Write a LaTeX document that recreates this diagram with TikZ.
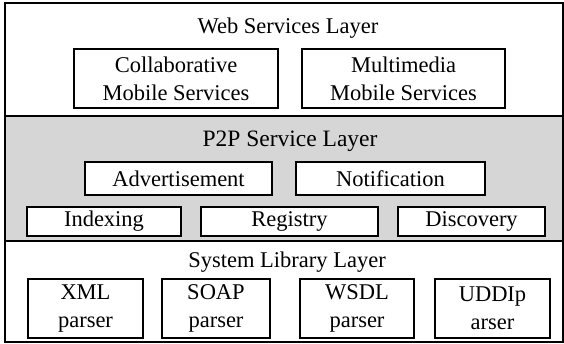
\documentclass[tikz,border=0pt]{standalone}
\usepackage{fontspec}
\setmainfont{Liberation Serif}
\begin{document}
\begin{tikzpicture}[x=1pt,y=-1pt,
  layer/.style={draw, line width=1.6pt, inner sep=0pt, outer sep=0pt, minimum width=558pt},
  lbox/.style={draw, fill=white, line width=1.7pt, inner sep=0pt, align=center,
     font=\fontsize{22.5}{28}\selectfont},
  ttl/.style={font=\fontsize{22.5}{26}\selectfont, inner sep=0pt}]
\useasboundingbox (0,0) rectangle (564,344);
% layers
\node[layer, minimum height=113pt] (web) at (284,59.5) {};
\node[layer, minimum height=125pt, fill=black!16] (p2p) at (284,178.5) {};
\node[layer, minimum height=101pt] (sys) at (284,291.5) {};
% titles
\node[ttl] (tweb) at (288,28) {Web Services Layer};
\node[ttl, font=\fontsize{23.5}{27}\selectfont] (tp2p) at (290,141) {P2P Service Layer};
\node[ttl] (tsys) at (287,262) {System Library Layer};
% web layer boxes
\node[lbox, minimum width=204pt, minimum height=59pt] (collab) at (176,78.5) {Collaborative\\Mobile Services};
\node[lbox, minimum width=203pt, minimum height=59pt] (multi) at (403.5,78.5) {Multimedia\\Mobile Services};
% p2p layer boxes
\node[lbox, minimum width=187pt, minimum height=33pt] (adv) at (178.5,178.5) {Advertisement};
\node[lbox, minimum width=189pt, minimum height=33pt] (notif) at (390.5,178.5) {Notification};
\node[lbox, minimum width=154pt, minimum height=29pt] (idx) at (104,221.5) {Indexing};
\node[lbox, minimum width=177pt, minimum height=29pt] (reg) at (289.5,221.5) {Registry};
\node[lbox, minimum width=147pt, minimum height=29pt] (disc) at (471.5,221.5) {Discovery};
% system library boxes
\node[lbox, minimum width=115pt, minimum height=59pt] (xml) at (85.5,308.5) {XML\\parser};
\node[lbox, minimum width=108pt, minimum height=59pt] (soap) at (216,308.5) {SOAP\\parser};
\node[lbox, minimum width=114pt, minimum height=59pt] (wsdl) at (357,308.5) {WSDL\\parser};
\node[lbox, minimum width=115pt, minimum height=59pt] (uddi) at (492.5,308.5) {UDDIp\\arser};
\end{tikzpicture}
\end{document}
